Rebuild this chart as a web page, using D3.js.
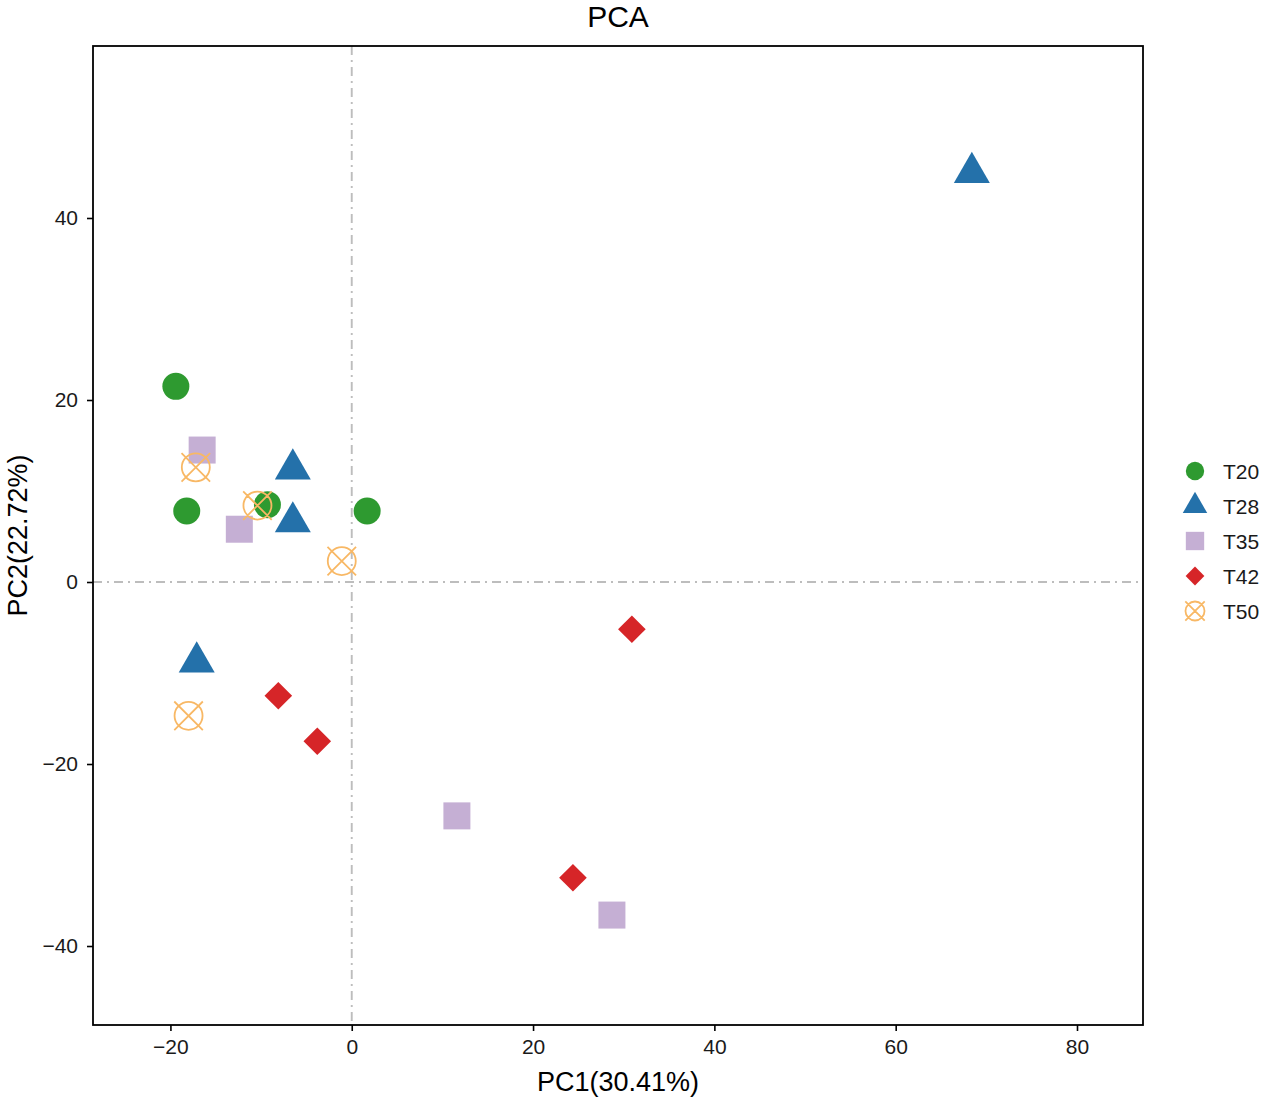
<!DOCTYPE html>
<html lang="en">
  <head>
    <meta charset="UTF-8" />
    <title>PCA</title>
    <style>
      body {
        margin: 0;
        background: #fff;
      }
      svg {
        display: block;
        font-family: "Liberation Sans", Arial, sans-serif;
      }
      .tick text {
        font-size: 21px;
        fill: #1a1a1a;
      }
    </style>
  </head>
  <body>
    <svg width="1264" height="1101"></svg>

    <script src="https://d3js.org/d3.v7.min.js"></script>
    <script>
      // groups and their look
      const groups = ["T20", "T28", "T35", "T42", "T50"];
      const colors = ["#2e9a30", "#2471aa", "#c5afd4", "#d62528", "#f8b865"];
      const shapes = ["circle", "triangle", "square", "diamond", "crosscircle"];

      // sample scores (PC1, PC2)
      const pc1T20 = [-19.4, -18.2, -9.3, 1.7];
      const pc2T20 = [21.5, 7.8, 8.5, 7.8];
      const pc1T28 = [68.4, -6.5, -6.5, -17.1];
      const pc2T28 = [45.0, 12.4, 6.6, -8.8];
      const pc1T35 = [-16.5, -12.4, 11.6, 28.7];
      const pc2T35 = [14.5, 5.8, -25.7, -36.6];
      const pc1T42 = [30.9, -8.1, -3.8, 24.4];
      const pc2T42 = [-5.2, -12.5, -17.5, -32.5];
      const pc1T50 = [-17.2, -10.4, -1.1, -18.0];
      const pc2T50 = [12.6, 8.4, 2.3, -14.7];

      const xTicks = [-20, 0, 20, 40, 60, 80];
      const yTicks = [-40, -20, 0, 20, 40];

      const pc1 = [pc1T20, pc1T28, pc1T35, pc1T42, pc1T50];
      const pc2 = [pc2T20, pc2T28, pc2T35, pc2T42, pc2T50];

      const points = [];
      groups.forEach((g, i) => {
        pc1[i].forEach((v, j) => points.push({ group: i, x: v, y: pc2[i][j] }));
      });

      const svg = d3.select("svg");
      const margin = { top: 46, left: 93, right: 121, bottom: 76 };
      const W = 1264 - margin.left - margin.right;
      const H = 1101 - margin.top - margin.bottom;

      const x = d3.scaleLinear().domain([-28.54, 87.28]).range([0, W]);
      const y = d3.scaleLinear().domain([-48.68, 58.9]).range([H, 0]);

      const g = svg
        .append("g")
        .attr("transform", `translate(${margin.left},${margin.top})`);

      // marker shapes, s = scale
      function shapePath(shape, s) {
        const p = d3.path();
        if (shape === "circle") {
          p.arc(0, 0, 13.5 * s, 0, 2 * Math.PI);
        } else if (shape === "triangle") {
          const hw = 18 * s;
          const h = hw * Math.sqrt(3);
          p.moveTo(0, (-2 * h) / 3);
          p.lineTo(hw, h / 3);
          p.lineTo(-hw, h / 3);
          p.closePath();
        } else if (shape === "square") {
          const a = 13.5 * s;
          p.rect(-a, -a, 2 * a, 2 * a);
        } else if (shape === "diamond") {
          const a = 13.8 * s;
          p.moveTo(0, -a);
          p.lineTo(a, 0);
          p.lineTo(0, a);
          p.lineTo(-a, 0);
          p.closePath();
        } else {
          const r = 14 * s;
          p.moveTo(r, 0);
          p.arc(0, 0, r, 0, 2 * Math.PI);
          const c = r * 1.02;
          p.moveTo(-c, -c);
          p.lineTo(c, c);
          p.moveTo(c, -c);
          p.lineTo(-c, c);
        }
        return p.toString();
      }

      function drawMarker(sel, i, s) {
        const hollow = shapes[i] === "crosscircle";
        sel
          .append("path")
          .attr("d", shapePath(shapes[i], s))
          .attr("fill", hollow ? "none" : colors[i])
          .attr("stroke", hollow ? colors[i] : "none")
          .attr("stroke-width", hollow ? 1.8 : 0);
      }

      // zero reference lines
      const refStyle = (sel) =>
        sel
          .attr("stroke", "#bdbdbd")
          .attr("stroke-width", 1.9)
          .attr("stroke-dasharray", "9,5,2,5");
      g.append("line")
        .attr("x1", x(0))
        .attr("x2", x(0))
        .attr("y1", 0)
        .attr("y2", H)
        .call(refStyle);
      g.append("line")
        .attr("x1", 0)
        .attr("x2", W)
        .attr("y1", y(0))
        .attr("y2", y(0))
        .call(refStyle);

      // points
      g.append("g")
        .selectAll("g")
        .data(points)
        .join("g")
        .attr("transform", (d) => `translate(${x(d.x)},${y(d.y)})`)
        .each(function (d) {
          drawMarker(d3.select(this), d.group, 1);
        });

      // axes
      const xAxis = g
        .append("g")
        .attr("transform", `translate(0,${H})`)
        .call(d3.axisBottom(x).tickValues(xTicks).tickSize(6).tickPadding(8));
      const yAxis = g
        .append("g")
        .call(d3.axisLeft(y).tickValues(yTicks).tickSize(6).tickPadding(9));
      [xAxis, yAxis].forEach((a) => {
        a.select(".domain").remove();
        a.selectAll(".tick line").attr("stroke", "#000").attr("stroke-width", 1.6);
        a.selectAll(".tick text").attr("font-family", null).attr("font-size", null);
      });

      // panel border
      g.append("rect")
        .attr("width", W)
        .attr("height", H)
        .attr("fill", "none")
        .attr("stroke", "#000")
        .attr("stroke-width", 1.8);

      // titles
      svg
        .append("text")
        .attr("x", margin.left + W / 2)
        .attr("y", 27)
        .attr("text-anchor", "middle")
        .attr("font-size", 30)
        .text("PCA");
      svg
        .append("text")
        .attr("x", margin.left + W / 2)
        .attr("y", 1091)
        .attr("text-anchor", "middle")
        .attr("font-size", 27)
        .text("PC1(30.41%)");
      svg
        .append("text")
        .attr("transform", `translate(27,${margin.top + H / 2}) rotate(-90)`)
        .attr("text-anchor", "middle")
        .attr("font-size", 27)
        .text("PC2(22.72%)");

      // legend
      const legend = svg
        .append("g")
        .attr("transform", "translate(1195,471)")
        .selectAll("g")
        .data(groups)
        .join("g")
        .attr("transform", (d, i) => `translate(0,${i * 35})`);
      legend.each(function (d, i) {
        drawMarker(d3.select(this), i, 0.68);
      });
      legend
        .append("text")
        .attr("x", 28)
        .attr("y", 7.5)
        .attr("font-size", 21)
        .attr("fill", "#1a1a1a")
        .text((d) => d);
    </script>
  </body>
</html>
